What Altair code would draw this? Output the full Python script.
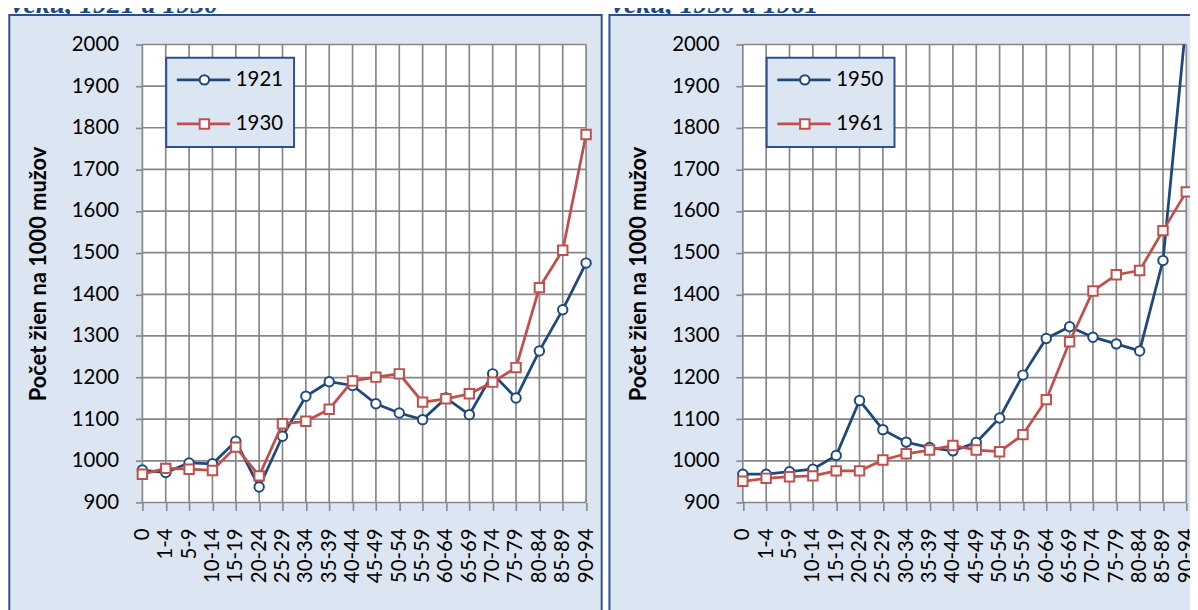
import altair as alt
import pandas as pd

# ---------------- data ----------------
ages = ["0", "1-4", "5-9", "10-14", "15-19", "20-24", "25-29", "30-34", "35-39",
        "40-44", "45-49", "50-54", "55-59", "60-64", "65-69", "70-74", "75-79",
        "80-84", "85-89", "90-94"]

v1921 = [978, 972, 995, 993, 1047, 937, 1059, 1155, 1190, 1181, 1137, 1115, 1099,
         1151, 1111, 1209, 1151, 1264, 1363, 1475]
v1930 = [968, 982, 980, 977, 1033, 964, 1089, 1095, 1124, 1192, 1201, 1209, 1141,
         1149, 1161, 1189, 1224, 1416, 1506, 1784]
v1950 = [968, 968, 974, 980, 1013, 1145, 1075, 1045, 1032, 1024, 1044, 1103, 1206,
         1294, 1322, 1297, 1281, 1264, 1481, 2060]
v1961 = [951, 958, 962, 964, 976, 976, 1002, 1017, 1026, 1037, 1026, 1022, 1063,
         1147, 1286, 1408, 1447, 1457, 1553, 1646]

y_ticks = [900, 1000, 1100, 1200, 1300, 1400, 1500, 1600, 1700, 1800, 1900, 2000]
y_title = "Počet žien na 1000 mužov"
panel_titles = ["veku, 1921 a 1930", "veku, 1950 a 1961"]
left_names = ["1921", "1930"]
right_names = ["1950", "1961"]

# ---------------- style ----------------
BLUE = "#1F497D"
RED = "#C0504D"
GRID = "#878787"
PANEL = "#DCE6F2"
BORDER = "#2A5290"
FONT = "Lato"
FS = 20.5

W = 1051
H = 461.1
PAD = {"left": 135.3, "top": 34.7, "right": 3.7, "bottom": 106.2}

one = pd.DataFrame({"k": [0]})
age_df = pd.DataFrame({"age": ages})
tick_df = pd.DataFrame({"v": y_ticks})


def rect(x, x2, y, y2, **kw):
    return alt.Chart(one).mark_rect(**kw).encode(
        x=alt.value(x), x2=alt.value(x2), y=alt.value(y), y2=alt.value(y2))


def panel(rng, offset, names, series, clip_first):
    xs = alt.Scale(type="point", domain=ages, range=rng, padding=0)
    ys = alt.Scale(domain=[900, 2000], nice=False, zero=False)
    xaxis = alt.Axis(orient="bottom", title=None, labelAngle=270, labelAlign="right",
                     labelBaseline="middle", labelFont=FONT, labelFontSize=FS,
                     labelColor="black", labelPadding=17.5, tickSize=8,
                     tickColor=GRID, tickWidth=1.6, domain=False, grid=False,
                     labelOverlap=False, zindex=1)
    yaxis = alt.Axis(orient="left", offset=offset, values=y_ticks, format="d",
                     labelFont=FONT, labelFontSize=FS, labelColor="black",
                     labelPadding=17, tickSize=7, tickColor=GRID, tickWidth=1.6,
                     domain=False, grid=False, title=y_title, titleFont=FONT,
                     titleFontSize=22, titleFontWeight="bold", titleColor="black",
                     titlePadding=21, zindex=1)

    plot_bg = rect(rng[0], rng[1], 0, H, fill="white")
    vgrid = alt.Chart(age_df).mark_rule(color=GRID, strokeWidth=1.7).encode(
        x=alt.X("age:O", scale=xs, axis=None),
        y=alt.Y(datum=900, type="quantitative", scale=ys, axis=None),
        y2=alt.Y2(datum=2000))
    hgrid = alt.Chart(tick_df).mark_rule(color=GRID, strokeWidth=1.7).encode(
        y=alt.Y("v:Q", scale=ys, axis=None),
        x=alt.X(datum=ages[0], type="ordinal", scale=xs, axis=None),
        x2=alt.X2(datum=ages[-1]))

    layers = [plot_bg, vgrid, hgrid]
    styles = [(BLUE, "circle", clip_first), (RED, "square", False)]
    for k, (vals, (color, shape, clip)) in enumerate(zip(series, styles)):
        df = pd.DataFrame({"age": ages, "v": vals})
        first = (k == 0)
        line = alt.Chart(df).mark_line(color=color, strokeWidth=2.8, clip=clip).encode(
            x=alt.X("age:O", scale=xs, axis=xaxis if first else None),
            y=alt.Y("v:Q", scale=ys, axis=yaxis if first else None))
        pts = alt.Chart(df).mark_point(
            shape=shape, size=90, filled=True, fill="white", stroke=color,
            strokeWidth=2, opacity=1, clip=clip).encode(
            x=alt.X("age:O", scale=xs, axis=None),
            y=alt.Y("v:Q", scale=ys, axis=None))
        layers += [line, pts]

    # legend box
    lx = rng[0]
    layers.append(rect(lx + 24, lx + 152.7, 13.3, 103.3, fill=PANEL,
                       stroke=BORDER, strokeWidth=2))
    for i, (name, (color, shape, _)) in enumerate(zip(names, styles)):
        yy = 35.6 + i * 44.4
        layers.append(alt.Chart(one).mark_rule(color=color, strokeWidth=2.8).encode(
            x=alt.value(lx + 34.7), x2=alt.value(lx + 88.4), y=alt.value(yy)))
        layers.append(alt.Chart(one).mark_point(
            shape=shape, size=90, filled=True, fill="white", stroke=color,
            strokeWidth=2, opacity=1).encode(x=alt.value(lx + 62.4), y=alt.value(yy)))
        layers.append(alt.Chart(one).mark_text(
            align="left", baseline="middle", font=FONT, fontSize=FS, color="black").encode(
            x=alt.value(lx + 94), y=alt.value(yy), text=alt.value(name)))
    return layers


left_rng = [0, 446.7]
right_rng = [604.5, 1051]

decor = []
for rng, title in zip([left_rng, right_rng], panel_titles):
    decor.append(alt.Chart(one).mark_text(
        align="left", baseline="alphabetic", font="Liberation Serif", fontSize=28,
        fontWeight="bold", fontStyle="italic", color=BLUE).encode(
        x=alt.value(rng[0] - 132), y=alt.value(-31.5), text=alt.value(title)))
decor.append(rect(-134, 462.4, -29.7, 620, fill=PANEL, stroke=BORDER, strokeWidth=2))
decor.append(rect(470.2, 1090, -29.7, 620, fill=PANEL, stroke=BORDER, strokeWidth=2))

all_layers = (decor
              + panel(left_rng, 0, left_names, [v1921, v1930], False)
              + panel(right_rng, -604.5, right_names, [v1950, v1961], True))

chart = alt.layer(*all_layers).resolve_scale(
    x="independent", y="independent"
).properties(
    width=W, height=H, padding=PAD,
    autosize=alt.AutoSizeParams(type="none"),
    background="white",
).configure_view(stroke=None)

chart.save("out.html", embed_options={"renderer": "svg", "actions": False})
